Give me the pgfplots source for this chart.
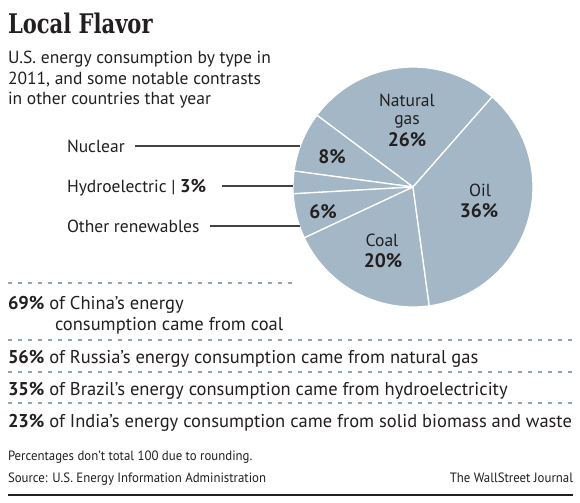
\documentclass[border=0pt]{standalone}
\usepackage{pgfplots}
\pgfplotsset{compat=1.18}
\usepackage{pgfplotstable}
\usepackage{fontspec}
\setmainfont{PT Sans}
\newfontfamily\titlefont{DejaVu Serif}[FakeStretch=0.78]
\newfontfamily\condfont{PT Sans}[FakeStretch=0.95]
\definecolor{piefill}{RGB}{163,183,198}
\definecolor{ink}{RGB}{35,31,32}
\definecolor{dashc}{RGB}{143,165,181}

\pgfplotstableread{
source share
Gas 26
Nuclear 8
Hydro 3
Other 6
Coal 20
Oil 36
}\usdata

\begin{document}%
\begin{tikzpicture}
\pgfplotstablegetelem{0}{share}\of\usdata \let\vGas\pgfplotsretval
\pgfplotstablegetelem{1}{share}\of\usdata \let\vNuc\pgfplotsretval
\pgfplotstablegetelem{2}{share}\of\usdata \let\vHyd\pgfplotsretval
\pgfplotstablegetelem{3}{share}\of\usdata \let\vOth\pgfplotsretval
\pgfplotstablegetelem{4}{share}\of\usdata \let\vCoa\pgfplotsretval
\pgfplotstablegetelem{5}{share}\of\usdata \let\vOil\pgfplotsretval
\pgfmathsetmacro\tot{\vGas+\vNuc+\vHyd+\vOth+\vCoa+\vOil}
\pgfmathsetmacro\aA{48.7}
\pgfmathsetmacro\aB{\aA+\vGas*360/\tot}
\pgfmathsetmacro\aC{\aB+\vNuc*360/\tot}
\pgfmathsetmacro\aD{\aC+\vHyd*360/\tot}
\pgfmathsetmacro\aE{\aD+\vOth*360/\tot}
\pgfmathsetmacro\aF{\aE+\vCoa*360/\tot}
\pgfmathsetmacro\aG{\aF+\vOil*360/\tot}
\useasboundingbox (0bp,0bp) rectangle (580bp,-503bp);
\fill[white] (0bp,0bp) rectangle (580bp,-503bp);
\begin{axis}[at={(413bp,-187bp)}, anchor=center, width=240bp, height=240bp,
  scale only axis, xmin=-1, xmax=1, ymin=-1, ymax=1, hide axis, clip=false,
  every axis plot/.style={fill=piefill, draw=white, line width=1.3pt, samples=80, variable=\t}]
\addplot[domain=\aA:\aB] ({cos(\t)},{sin(\t)}) -- (0,0) -- cycle;
\addplot[domain=\aB:\aC] ({cos(\t)},{sin(\t)}) -- (0,0) -- cycle;
\addplot[domain=\aC:\aD] ({cos(\t)},{sin(\t)}) -- (0,0) -- cycle;
\addplot[domain=\aD:\aE] ({cos(\t)},{sin(\t)}) -- (0,0) -- cycle;
\addplot[domain=\aE:\aF] ({cos(\t)},{sin(\t)}) -- (0,0) -- cycle;
\addplot[domain=\aF:\aG] ({cos(\t)},{sin(\t)}) -- (0,0) -- cycle;
\end{axis}
\begin{scope}[x=1bp,y=-1bp, every node/.style={inner sep=0pt, outer sep=0pt, text=ink}]
% title
\node[anchor=base west] at (8,33) {\titlefont\bfseries\fontsize{27bp}{30bp}\selectfont Local Flavor};
\node[anchor=base west] at (8,63) {\fontsize{17.5bp}{21bp}\selectfont U.S. energy consumption by type in};
\node[anchor=base west] at (8,84) {\fontsize{17.5bp}{21bp}\selectfont 2011, and some notable contrasts};
\node[anchor=base west] at (8,104) {\fontsize{17.5bp}{21bp}\selectfont in other countries that year};
% leaders
\draw[ink!85, line width=1.2bp] (135,146) -- (300,146);
\draw[ink!85, line width=1.2bp] (222,186) -- (293,186);
\draw[ink!85, line width=1.2bp] (210,226) -- (300,226);
\node[anchor=base west] at (67,152) {\fontsize{17.5bp}{20bp}\selectfont Nuclear};
\node[anchor=base west] at (67,192) {\fontsize{17.5bp}{20bp}\selectfont Hydroelectric | \fontsize{18.5bp}{20bp}\selectfont\textbf{3\%}};
\node[anchor=base west] at (67,232) {\fontsize{17.5bp}{20bp}\selectfont Other renewables};
% pie labels
\node[align=center, font=\fontsize{17.5bp}{18bp}\selectfont] at (407,111) {Natural\\gas};
\node at (407,140) {\fontsize{19.5bp}{20bp}\selectfont\bfseries 26\%};
\node at (332,157) {\fontsize{19.5bp}{20bp}\selectfont\bfseries 8\%};
\node at (323,212) {\fontsize{19.5bp}{20bp}\selectfont\bfseries 6\%};
\node at (382,240) {\fontsize{17.5bp}{20bp}\selectfont Coal};
\node at (383,261) {\fontsize{19.5bp}{20bp}\selectfont\bfseries 20\%};
\node at (480,190) {\fontsize{17.5bp}{20bp}\selectfont Oil};
\node at (479,211) {\fontsize{19.5bp}{20bp}\selectfont\bfseries 36\%};
% dashed separators
\draw[dashc, line width=1.2bp, dash pattern=on 4bp off 6bp] (8,283) -- (293,283);
\draw[dashc, line width=1.2bp, dash pattern=on 4bp off 6bp] (8,340) -- (573,340);
\draw[dashc, line width=1.2bp, dash pattern=on 4bp off 6bp] (8,372) -- (573,372);
\draw[dashc, line width=1.2bp, dash pattern=on 4bp off 6bp] (8,403) -- (573,403);
% facts
\node[anchor=base west] at (8,309) {\fontsize{18.5bp}{20bp}\selectfont\textbf{69\%} of China’s energy};
\node[anchor=base west] at (55,330) {\fontsize{18.5bp}{20bp}\selectfont consumption came from coal};
\node[anchor=base west] at (8,363) {\fontsize{18.5bp}{20bp}\selectfont\textbf{56\%} of Russia’s energy consumption came from natural gas};
\node[anchor=base west] at (8,395) {\fontsize{18.5bp}{20bp}\selectfont\textbf{35\%} of Brazil’s energy consumption came from hydroelectricity};
\node[anchor=base west] at (8,427) {\fontsize{18.5bp}{20bp}\selectfont\textbf{23\%} of India’s energy consumption came from solid biomass and waste};
% footer
\node[anchor=base west] at (8,460) {\condfont\fontsize{13.5bp}{15bp}\selectfont Percentages don’t total 100 due to rounding.};
\node[anchor=base west] at (8,482) {\condfont\fontsize{13.5bp}{15bp}\selectfont Source: U.S. Energy Information Administration};
\node[anchor=base east] at (573,482) {\condfont\fontsize{13.5bp}{15bp}\selectfont The WallStreet Journal};
\draw[ink, line width=2bp] (8,495) -- (573,495);
\end{scope}
\end{tikzpicture}%
\end{document}
